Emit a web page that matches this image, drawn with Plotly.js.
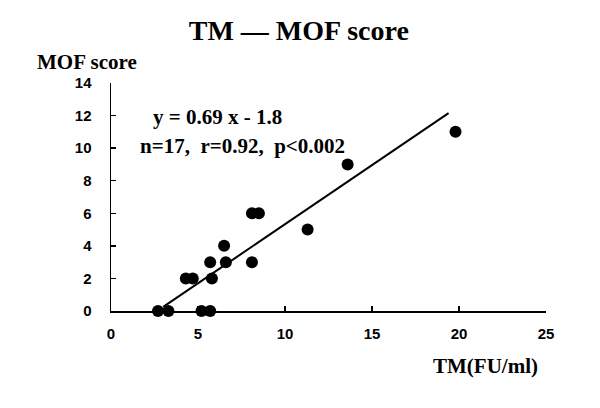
<!DOCTYPE html>
<html>
<head>
<meta charset="utf-8">
<script src="https://cdn.plot.ly/plotly-3.0.1.min.js"></script>
<style>
  body { margin: 0; background: white; }
  #myDiv { width: 600px; height: 408px; }
</style>
</head>
<body>
<div id="myDiv"></div>
<script>
// measured points, TM (FU/ml) vs MOF score
var tmValues = [2.7, 3.3, 5.2, 5.7, 4.3, 4.7, 5.8, 5.7, 6.6, 6.5, 8.1, 8.1, 8.5, 11.3, 13.6, 19.8];
var mofScores = [0, 0, 0, 0, 2, 2, 2, 3, 3, 4, 3, 6, 6, 5, 9, 11];

// regression line ends as drawn
var fitX = [3.0, 19.4];
var fitY = [0.25, 12.15];

var xTicks = [0, 5, 10, 15, 20, 25];
var yTicks = [0, 2, 4, 6, 8, 10, 12, 14];

var serif = 'Liberation Serif, Times New Roman, serif';
var sans = 'Liberation Sans, Arial, sans-serif';

var trace1 = {
  x: tmValues,
  y: mofScores,
  mode: 'markers',
  type: 'scatter',
  cliponaxis: false,
  marker: { color: 'black', size: 12 },
  hoverinfo: 'skip'
};

var trace2 = {
  x: fitX,
  y: fitY,
  mode: 'lines',
  type: 'scatter',
  cliponaxis: false,
  line: { color: 'black', width: 2 },
  hoverinfo: 'skip'
};

var data = [trace1, trace2];

var layout = {
  width: 600,
  height: 408,
  showlegend: false,
  margin: { l: 111, r: 54, t: 83, b: 97 },
  paper_bgcolor: 'white',
  plot_bgcolor: 'white',
  title: {
    text: 'TM — MOF score',
    x: 0.498, xanchor: 'center',
    y: 0.926, yanchor: 'middle',
    font: { family: serif, size: 28, color: 'black', weight: 'bold' }
  },
  xaxis: {
    range: [0, 25],
    tickvals: xTicks,
    showgrid: false,
    zeroline: false,
    showline: true,
    linecolor: 'black',
    linewidth: 1.5,
    ticks: 'inside',
    ticklen: 5,
    tickwidth: 1.5,
    tickcolor: 'black',
    ticklabelstandoff: 8,
    tickfont: { family: sans, size: 15, color: 'black', weight: 'bold' },
    fixedrange: true
  },
  yaxis: {
    range: [0, 14],
    tickvals: yTicks,
    showgrid: false,
    zeroline: false,
    showline: true,
    linecolor: 'black',
    linewidth: 1.5,
    ticks: 'inside',
    ticklen: 5,
    tickwidth: 1.5,
    tickcolor: 'black',
    ticklabelstandoff: 15,
    tickfont: { family: sans, size: 15, color: 'black', weight: 'bold' },
    fixedrange: true
  },
  annotations: [
    {
      text: 'MOF score', xref: 'paper', yref: 'paper',
      x: -0.175, y: 1.092, xanchor: 'left', yanchor: 'middle', showarrow: false,
      font: { family: serif, size: 21, color: 'black', weight: 'bold' }
    },
    {
      text: 'TM(FU/ml)', xref: 'paper', yref: 'paper',
      x: 0.736, y: -0.241, xanchor: 'left', yanchor: 'middle', showarrow: false,
      font: { family: serif, size: 21, color: 'black', weight: 'bold' }
    },
    {
      text: 'y = 0.69 x - 1.8', xref: 'x', yref: 'y',
      x: 2.3, y: 11.9, xanchor: 'left', yanchor: 'middle', showarrow: false,
      font: { family: serif, size: 21, color: 'black', weight: 'bold' }
    },
    {
      text: 'n=17,\u00a0 r=0.92,\u00a0 p<0.002', xref: 'x', yref: 'y',
      x: 1.55, y: 10.15, xanchor: 'left', yanchor: 'middle', showarrow: false,
      font: { family: serif, size: 21, color: 'black', weight: 'bold' }
    }
  ]
};

Plotly.newPlot('myDiv', data, layout, { displayModeBar: false, staticPlot: true });
</script>
</body>
</html>
